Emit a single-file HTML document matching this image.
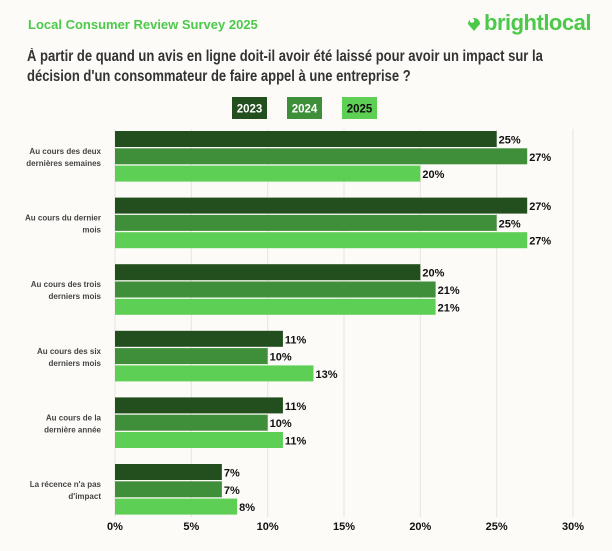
<!DOCTYPE html>
<html><head><meta charset="utf-8"><style>
body{margin:0;width:612px;height:551px;background:#fcfbf7;font-family:"Liberation Sans",sans-serif;position:relative;overflow:hidden}
.abs{position:absolute}
</style></head><body>
<div class="abs" style="left:28px;top:17px;font-size:13px;font-weight:bold;color:#4cc94a">Local Consumer Review Survey 2025</div>
<div class="abs" style="left:466px;top:10px;height:26px;display:flex;align-items:center">
<svg width="16" height="18" viewBox="0 0 16 18"><path d="M8 17 L2 10 A6 6 0 1 1 14 10 Z" fill="#4cc94a"/><circle cx="6" cy="6.5" r="2.3" fill="#fcfbf7"/></svg>
<span style="font-size:22px;font-weight:bold;color:#4cc94a;letter-spacing:-0.5px;margin-left:2px">brightlocal</span></div>
<div class="abs" style="left:27px;top:47px;white-space:nowrap;font-size:15.5px;font-weight:bold;color:#333;line-height:20px;transform:scaleX(0.84);transform-origin:0 0">À partir de quand un avis en ligne doit-il avoir été laissé pour avoir un impact sur la<br>décision d'un consommateur de faire appel à une entreprise ?</div>
<svg id="chart" class="abs" style="left:0;top:0" width="612" height="551"></svg>
<script>
const categories=[["Au cours des deux","dernières semaines"],["Au cours du dernier","mois"],["Au cours des trois","derniers mois"],["Au cours des six","derniers mois"],["Au cours de la","dernière année"],["La récence n'a pas","d'impact"]];
const years=["2023","2024","2025"];
const v2023=[25,27,20,11,11,7];
const v2024=[27,25,21,10,10,7];
const v2025=[20,27,21,13,11,8];
const ticks=[0,5,10,15,20,25,30];
const colors=["#234f1f","#3f8f3a","#5ecf55"];
const NS="http://www.w3.org/2000/svg";
const svg=document.getElementById('chart');
const x=v=>115+v*(458/30);
const gy=i=>131+i*66.6;
function mk(t,a,p){const e=document.createElementNS(NS,t);for(const k in a)e.setAttribute(k,a[k]);(p||svg).appendChild(e);return e;}
years.forEach((y,i)=>{
 const g=mk('g',{});
 
 
 mk('rect',{x:232+i*55,y:97,width:35,height:22,fill:colors[i]},g);
 const t=mk('text',{x:249.5+i*55,y:112.5,'text-anchor':'middle','font-size':11.5,'font-weight':'bold',fill:i==2?'#111':'#fff'},g);t.textContent=y;
});
ticks.forEach(tk=>{
 const l=mk('line',{x1:x(tk),x2:x(tk),y1:129,y2:517,stroke:'#e6e5e0','stroke-width':1});
 
 
 const t=mk('text',{x:x(tk),y:530,'text-anchor':'middle','font-size':11,'font-weight':'bold',fill:'#111'});
 
 
 t.textContent=tk+'%';
});
const series=[v2023,v2024,v2025];
categories.forEach((c,i)=>{
 const cy=gy(i)+25;
 const t=mk('text',{x:101,'text-anchor':'end','font-size':8,'font-weight':'bold',fill:'#444'});
 
 
 c.forEach((ln,j)=>{const s=mk('tspan',{x:101,y:cy-2+j*12},t);s.textContent=ln;});
 series.forEach((s,k)=>{
  const y=gy(i)+k*17.3;
  const r=mk('rect',{x:x(0),y:y,width:x(s[i])-x(0),height:16,fill:colors[k]});
  
  
  const lb=mk('text',{x:x(s[i])+2,y:y+12.5,'font-size':11,'font-weight':'bold',fill:'#111'});
  
  
  lb.textContent=s[i]+'%';
 });
});
</script>
</body></html>
